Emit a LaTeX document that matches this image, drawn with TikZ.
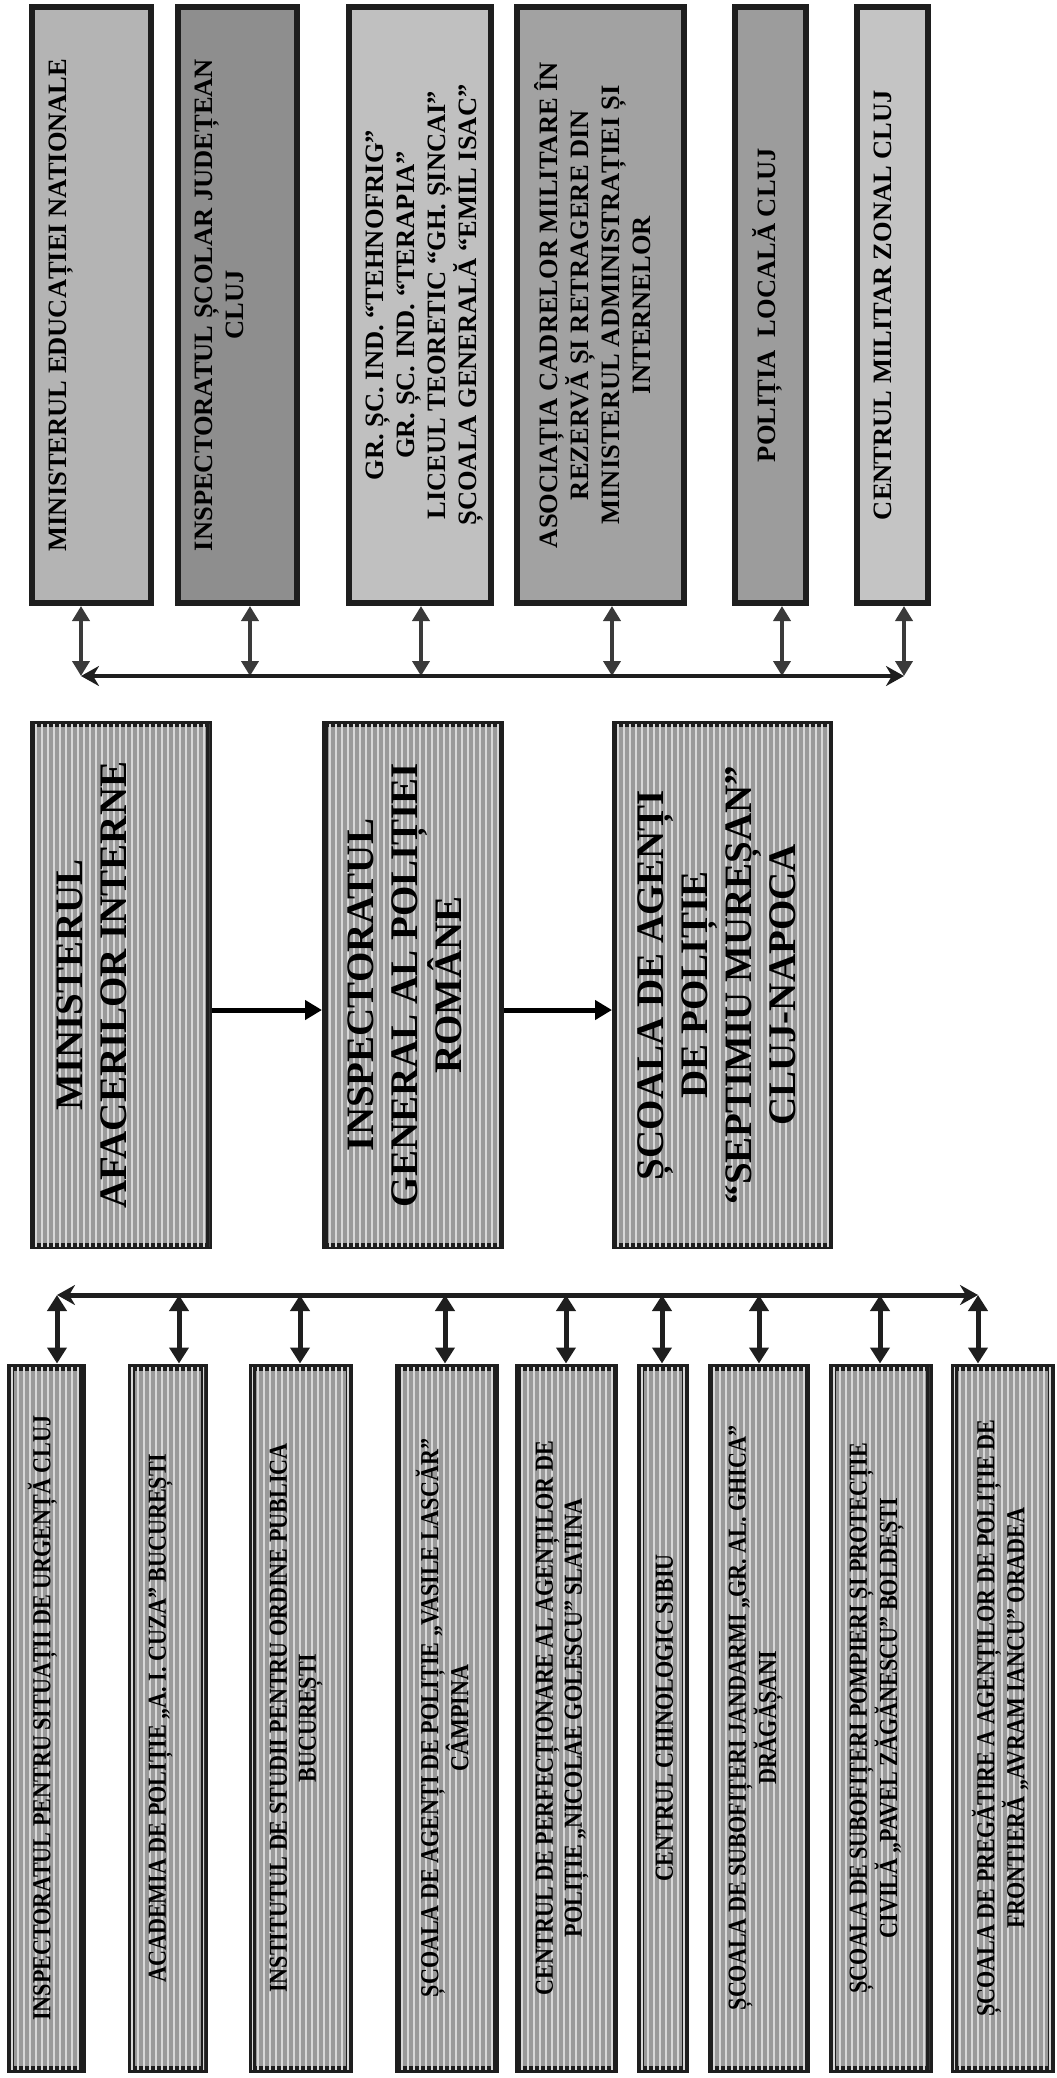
\documentclass[tikz,border=0pt]{standalone}
\usepackage{fontspec}
\setmainfont{Liberation Serif}
\newfontfamily\narrowserif{Liberation Serif}[FakeStretch=0.85]
\usepackage{tikz}
\usetikzlibrary{arrows.meta, patterns.meta, calc}

\definecolor{edge}{HTML}{1E1E1E}
\definecolor{arrowgrey}{HTML}{3A3A3A}
\definecolor{fillA}{HTML}{B4B4B4}
\definecolor{fillB}{HTML}{8E8E8E}
\definecolor{fillC}{HTML}{C0C0C0}
\definecolor{fillD}{HTML}{A2A2A2}
\definecolor{fillE}{HTML}{9C9C9C}
\definecolor{fillF}{HTML}{C4C4C4}
\definecolor{stripe}{HTML}{9A9A9A}
\definecolor{stripeline}{HTML}{D8D8D8}

\begin{document}
\begin{tikzpicture}[x=1pt, y=-1pt,
  topbox/.style={draw=edge, line width=6pt, minimum height=596pt, inner sep=0pt},
  midbox/.style={draw=edge, line width=6pt, minimum height=522pt, inner sep=0pt, fill=stripe,
    postaction={pattern={Lines[angle=90, distance=6pt, line width=1.3pt]}, pattern color=stripeline}},
  lowbox/.style={draw=edge, line width=7pt, minimum height=702pt, inner sep=0pt, fill=stripe,
    postaction={pattern={Lines[angle=90, distance=6pt, line width=1.3pt]}, pattern color=stripeline}},
  toptext/.style={rotate=90, anchor=north, inner sep=0pt, align=center,
    font=\fontsize{26.5}{31}\selectfont\bfseries},
  midtext/.style={rotate=90, anchor=north, inner sep=0pt, align=center,
    font=\fontsize{39}{44}\selectfont\bfseries},
  lowtext/.style={rotate=90, anchor=north, inner sep=0pt, align=center,
    font=\narrowserif\fontsize{26}{29}\selectfont\bfseries},
  duo/.style={draw=arrowgrey, line width=4.5pt, {Triangle[width=17pt, length=15pt]}-{Triangle[width=17pt, length=15pt]}},
  rail/.style={draw=edge, line width=4pt, {Stealth[width=20pt, length=18pt]}-{Stealth[width=20pt, length=18pt]}},
  duolow/.style={draw=edge, line width=5pt, {Triangle[width=19pt, length=16pt]}-{Triangle[width=19pt, length=16pt]}},
  flow/.style={draw=black, line width=5pt, -{Triangle[width=19pt, length=17pt]}}]

  \useasboundingbox (0,0) rectangle (1057,2078);

  \node[topbox, fill=fillA, minimum width=119pt] (t1) at (91.5,305) {};
  \node[topbox, fill=fillB, minimum width=119pt] (t2) at (237.5,305) {};
  \node[topbox, fill=fillC, minimum width=142pt] (t3) at (420,305) {};
  \node[topbox, fill=fillD, minimum width=167pt] (t4) at (600.5,305) {};
  \node[topbox, fill=fillE, minimum width=71pt] (t5) at (770.5,305) {};
  \node[topbox, fill=fillF, minimum width=71pt] (t6) at (892.5,305) {};

  \node[toptext] (t1txt) at ([xshift=20pt]t1.west) {MINISTERUL EDUCAȚIEI NATIONALE};
  \node[toptext] (t2txt) at ([xshift=20pt]t2.west) {INSPECTORATUL ȘCOLAR JUDEȚEAN\\CLUJ};
  \node[toptext] (t3txt) at ([xshift=20pt]t3.west) {GR. ȘC. IND. “TEHNOFRIG”\\GR. ȘC. IND. “TERAPIA”\\LICEUL TEORETIC “GH. ȘINCAI”\\ȘCOALA GENERALĂ “EMIL ISAC”};
  \node[toptext] (t4txt) at ([xshift=20pt]t4.west) {ASOCIAȚIA CADRELOR MILITARE ÎN\\REZERVĂ ȘI RETRAGERE DIN\\MINISTERUL ADMINISTRAȚIEI ȘI\\INTERNELOR};
  \node[toptext] (t5txt) at ([xshift=20pt]t5.west) {POLIȚIA\ \ LOCALĂ CLUJ};
  \node[toptext] (t6txt) at ([xshift=20pt]t6.west) {CENTRUL MILITAR ZONAL CLUJ};

  \foreach \x/\b [count=\i] in {81/t1, 250/t2, 421/t3, 612/t4, 782/t5, 904/t6}{
    \coordinate (th\i) at (\x,676);
    \draw[duo] (th\i) -- (th\i |- \b.south);
  }
  \draw[rail] (th1) -- (th6);

  \node[midbox, minimum width=176pt] (m1) at (121,985) {};
  \node[midbox, minimum width=176pt] (m2) at (413,985) {};
  \node[midbox, minimum width=215pt] (m3) at (722.5,985) {};

  \node[midtext] (m1txt) at ([xshift=26pt]m1.west) {MINISTERUL\\AFACERILOR INTERNE};
  \node[midtext] (m2txt) at ([xshift=25pt]m2.west) {INSPECTORATUL\\GENERAL AL POLIȚIEI\\ROMÂNE};
  \node[midtext] (m3txt) at ([xshift=25pt]m3.west) {ȘCOALA DE AGENȚI\\DE POLIȚIE\\“SEPTIMIU MUREȘAN”\\CLUJ-NAPOCA};

  \draw[flow] ([yshift=-25pt]m1.east) -- ([yshift=-25pt]m2.west);
  \draw[flow] ([yshift=-25pt]m2.east) -- ([yshift=-25pt]m3.west);

  \node[lowbox, minimum width=72pt] (b1) at (46,1718) {};
  \node[lowbox, minimum width=73pt] (b2) at (167.5,1718) {};
  \node[lowbox, minimum width=97pt] (b3) at (300.5,1718) {};
  \node[lowbox, minimum width=97pt] (b4) at (446.5,1718) {};
  \node[lowbox, minimum width=96pt] (b5) at (566,1718) {};
  \node[lowbox, minimum width=45pt] (b6) at (662.5,1718) {};
  \node[lowbox, minimum width=95pt] (b7) at (758.5,1718) {};
  \node[lowbox, minimum width=97pt] (b8) at (880.5,1718) {};
  \node[lowbox, minimum width=97pt] (b9) at (1002.5,1718) {};

  \node[lowtext] (b1txt) at ([xshift=21pt]b1.west) {INSPECTORATUL PENTRU SITUAȚII DE URGENȚĂ CLUJ};
  \node[lowtext] (b2txt) at ([xshift=21pt]b2.west) {ACADEMIA DE POLIȚIE „A. I. CUZA” BUCUREȘTI};
  \node[lowtext] (b3txt) at ([xshift=21pt]b3.west) {INSTITUTUL DE STUDII PENTRU ORDINE PUBLICA\\BUCUREȘTI};
  \node[lowtext] (b4txt) at ([xshift=21pt]b4.west) {ȘCOALA DE AGENȚI DE POLIȚIE „VASILE LASCĂR”\\CÂMPINA};
  \node[lowtext] (b5txt) at ([xshift=21pt]b5.west) {CENTRUL DE PERFECȚIONARE AL AGENȚILOR DE\\POLIȚIE „NICOLAE GOLESCU” SLATINA};
  \node[lowtext] (b6txt) at ([xshift=19pt]b6.west) {CENTRUL CHINOLOGIC SIBIU};
  \node[lowtext] (b7txt) at ([xshift=21pt]b7.west) {ȘCOALA DE SUBOFIȚERI JANDARMI „GR. AL. GHICA”\\DRĂGĂȘANI};
  \node[lowtext] (b8txt) at ([xshift=21pt]b8.west) {ȘCOALA DE SUBOFIȚERI POMPIERI ȘI PROTECȚIE\\CIVILĂ „PAVEL ZĂGĂNESCU” BOLDEȘTI};
  \node[lowtext] (b9txt) at ([xshift=21pt]b9.west) {ȘCOALA DE PREGĂTIRE A AGENȚILOR DE POLIȚIE DE\\FRONTIERĂ „AVRAM IANCU” ORADEA};

  \foreach \x/\b [count=\i] in {57/b1, 179/b2, 300/b3, 445/b4, 566/b5, 662/b6, 759/b7, 880/b8, 978/b9}{
    \coordinate (bh\i) at (\x,1295);
    \draw[duolow] (bh\i) -- (bh\i |- \b.north);
  }
  \draw[rail, line width=5pt] (bh1) -- (bh9);
\end{tikzpicture}
\end{document}
